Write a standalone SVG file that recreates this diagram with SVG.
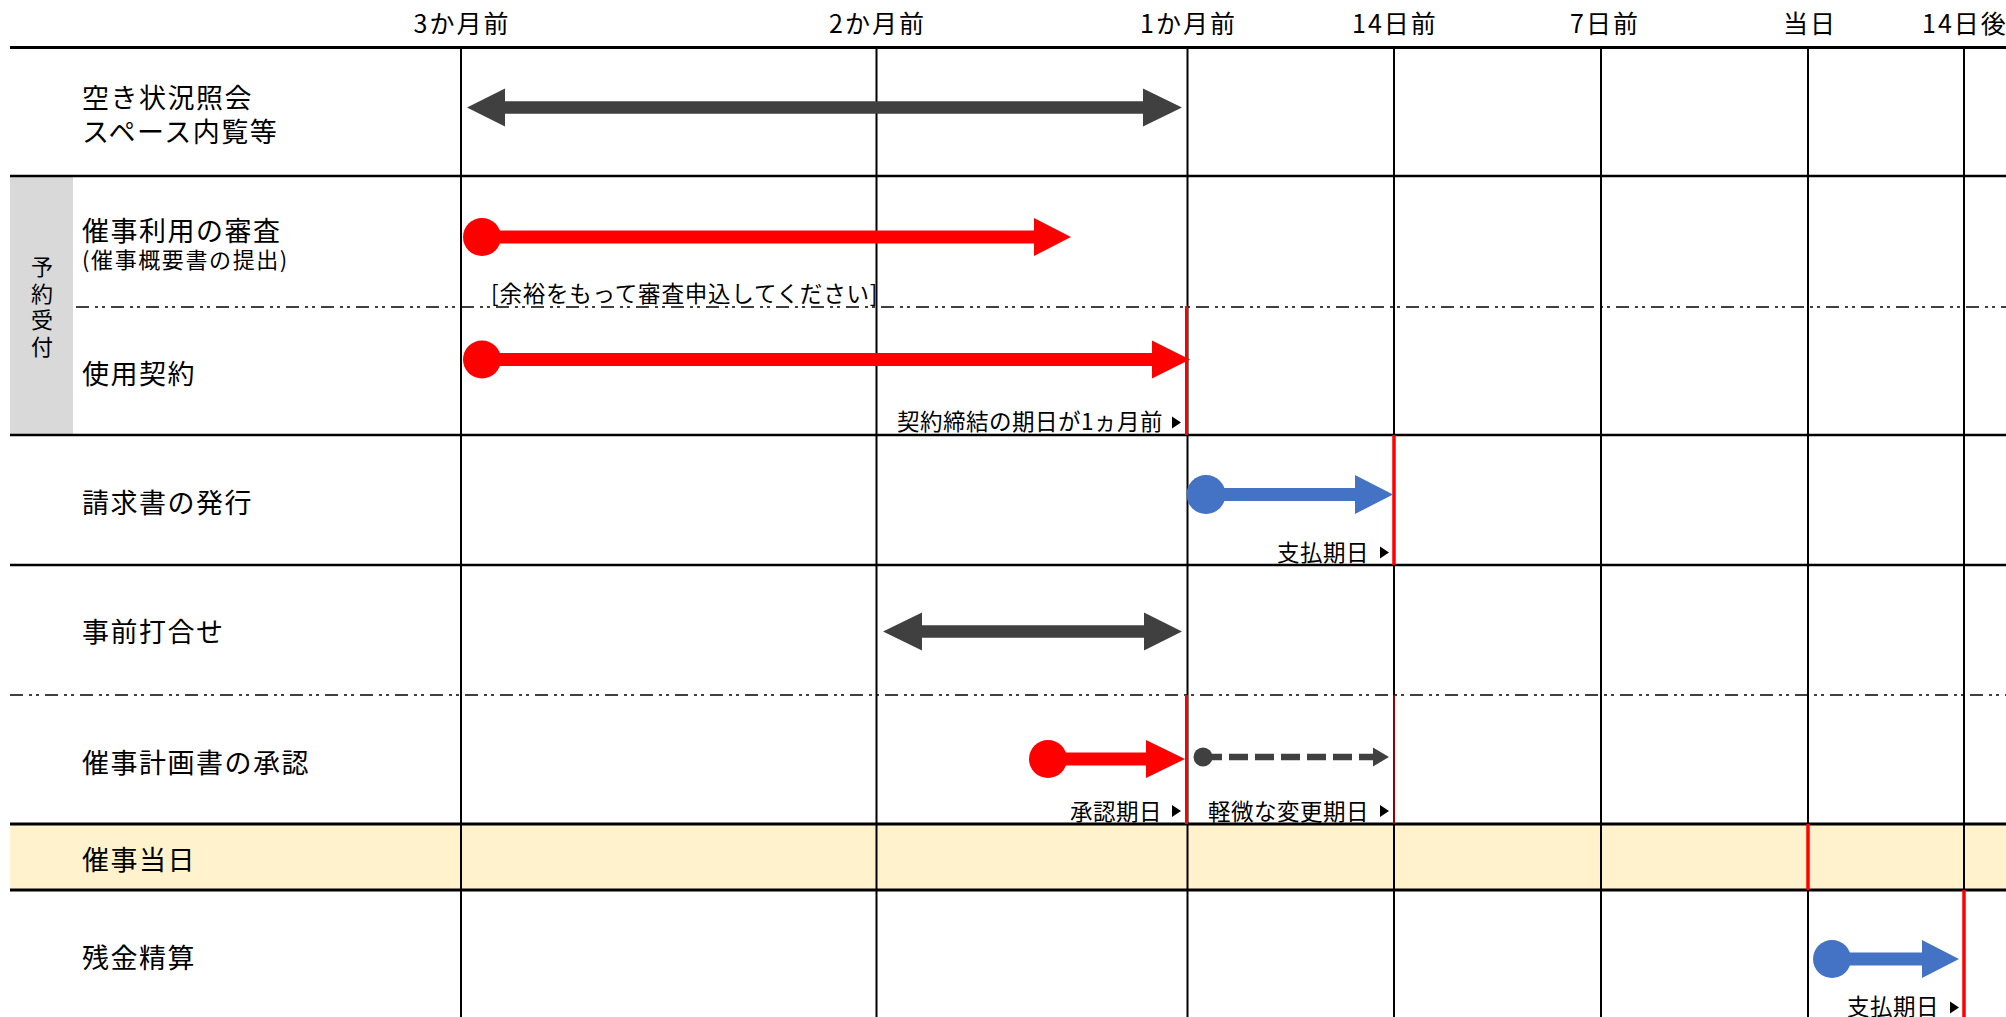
<svg xmlns="http://www.w3.org/2000/svg" width="2006" height="1017" viewBox="0 0 2006 1017">
<style>
text{font-family:"Noto Sans CJK JP","Noto Sans",sans-serif;fill:#000}
.hd{font-size:25px;letter-spacing:2px;text-anchor:middle}
.lb{font-size:27px;letter-spacing:1.5px}
.sm{font-size:22.5px;letter-spacing:0.5px}
.end{text-anchor:end}
.side{font-size:22px;text-anchor:middle;writing-mode:vertical-rl;letter-spacing:4.5px}
.hl{stroke:#000;stroke-width:2.5;fill:none}
.vl{stroke:#000;stroke-width:2;fill:none}
.dd{stroke:#404040;stroke-width:2;stroke-dasharray:13 6 3 4 3 6;fill:none}
.rl{stroke:#FF0000;stroke-width:3;fill:none}
.red{fill:#FF0000}
.blue{fill:#4472C4}
.dark{fill:#404040}
.tri{fill:#000}
</style>
<rect width="2006" height="1017" fill="#FFFFFF"/>
<g id="background">
<rect x="10" y="824" width="1996" height="66" fill="#FFF2CC"/>
<rect x="10" y="177" width="63" height="258" fill="#D9D9D9"/>
</g>
<g id="grid">
<line class="hl" x1="10" y1="47.5" x2="2006" y2="47.5" style="stroke-width:3"/>
<line class="hl" x1="10" y1="176" x2="2006" y2="176"/>
<line class="dd" x1="76" y1="307" x2="2006" y2="307"/>
<line class="hl" x1="10" y1="435" x2="2006" y2="435"/>
<line class="hl" x1="10" y1="565" x2="2006" y2="565"/>
<line class="dd" x1="10" y1="695" x2="2006" y2="695"/>
<line class="hl" x1="10" y1="824" x2="2006" y2="824" style="stroke-width:3"/>
<line class="hl" x1="10" y1="890" x2="2006" y2="890" style="stroke-width:3"/>
<line class="vl" x1="461" y1="47.5" x2="461" y2="1017"/>
<line class="vl" x1="876.5" y1="47.5" x2="876.5" y2="1017"/>
<line class="vl" x1="1187.5" y1="47.5" x2="1187.5" y2="1017"/>
<line class="vl" x1="1394" y1="47.5" x2="1394" y2="1017"/>
<line class="vl" x1="1601" y1="47.5" x2="1601" y2="1017"/>
<line class="vl" x1="1808" y1="47.5" x2="1808" y2="1017"/>
<line class="vl" x1="1964" y1="47.5" x2="1964" y2="1017"/>
</g>
<g id="header">
<text class="hd" x="462" y="33">3か月前</text>
<text class="hd" x="877.5" y="33">2か月前</text>
<text class="hd" x="1188.5" y="33">1か月前</text>
<text class="hd" x="1395" y="33">14日前</text>
<text class="hd" x="1605" y="33">7日前</text>
<text class="hd" x="1810" y="33">当日</text>
<text class="hd" x="1965" y="33">14日後</text>
</g>
<g id="deadlines">
<line class="rl" x1="1186.5" y1="306" x2="1186.5" y2="435"/>
<line class="rl" x1="1394" y1="435" x2="1394" y2="565" style="stroke-width:3.5"/>
<line class="rl" x1="1186.5" y1="695" x2="1186.5" y2="824"/>
<line class="rl" x1="1394" y1="695" x2="1394" y2="824" style="stroke-width:1.2"/>
<line class="rl" x1="1808" y1="824" x2="1808" y2="890" style="stroke-width:3.5"/>
<line class="rl" x1="1964" y1="890" x2="1964" y2="1017" style="stroke-width:3.5"/>
</g>
<g id="row-sidebar">
<text class="side" x="42" y="309">予約受付</text>
</g>
<g id="row-aki">
<text class="lb"><tspan x="82" y="108">空き状況照会</tspan><tspan x="82" y="142">スペース内覧等</tspan></text>
</g>
<g id="row-shinsa">
<text class="lb"><tspan x="82" y="241">催事利用の審査</tspan><tspan x="82" y="268" style="font-size:22px;letter-spacing:1.6px">(催事概要書の提出)</tspan></text>
<text class="sm" x="491" y="302" style="letter-spacing:0.8px">[余裕をもって審査申込してください]</text>
</g>
<g id="row-keiyaku">
<text class="lb" x="82" y="384">使用契約</text>
<text class="sm end" x="1163" y="429.5">契約締結の期日が1ヵ月前</text>
<polygon class="tri" points="1172,416.5 1172,428.5 1181,422.5"/>
</g>
<g id="row-seikyu">
<text class="lb" x="82" y="513">請求書の発行</text>
<text class="sm end" x="1369" y="561">支払期日</text>
<polygon class="tri" points="1380,546.5 1380,558.5 1389,552.5"/>
</g>
<g id="row-uchiawase">
<text class="lb" x="82" y="642">事前打合せ</text>
</g>
<g id="row-keikaku">
<text class="lb" x="82" y="773">催事計画書の承認</text>
<text class="sm end" x="1162" y="820">承認期日</text>
<polygon class="tri" points="1172,805 1172,817 1181,811"/>
<text class="sm end" x="1369" y="820">軽微な変更期日</text>
<polygon class="tri" points="1380,805 1380,817 1389,811"/>
</g>
<g id="row-tojitsu">
<text class="lb" x="82" y="870">催事当日</text>
</g>
<g id="row-zankin">
<text class="lb" x="82" y="968">残金精算</text>
<text class="sm end" x="1939" y="1015">支払期日</text>
<polygon class="tri" points="1950,1001.5 1950,1013.5 1959,1007.5"/>
</g>
<g id="connectors">
<path class="dark" d="M467,107.5 L505,88.5 L505,101.25 L1143,101.25 L1143,88.5 L1182,107.5 L1143,126.5 L1143,113.75 L505,113.75 L505,126.5 Z"/>
<g class="red">
<circle cx="482" cy="237" r="19"/>
<path d="M482,230.5 L1034,230.5 L1034,218 L1071,237 L1034,256 L1034,243.5 L482,243.5 Z"/>
</g>
<g class="red">
<circle cx="482" cy="359.5" r="19"/>
<path d="M482,353 L1152,353 L1152,340.5 L1190,359.5 L1152,378.5 L1152,366 L482,366 Z"/>
</g>
<g class="blue">
<circle cx="1206" cy="494.5" r="19.5"/>
<path d="M1206,488 L1355,488 L1355,475 L1393,494.5 L1355,514 L1355,501 L1206,501 Z"/>
</g>
<path class="dark" d="M883,631.5 L922,612.5 L922,625.25 L1144,625.25 L1144,612.5 L1182,631.5 L1144,650.5 L1144,637.75 L922,637.75 L922,650.5 Z"/>
<g class="red">
<circle cx="1048" cy="759" r="19"/>
<path d="M1048,752.5 L1146,752.5 L1146,740 L1185,759 L1146,778 L1146,765.5 L1048,765.5 Z"/>
</g>
<g class="dark">
<circle cx="1203" cy="757" r="9.5"/>
<line x1="1203" y1="757" x2="1375" y2="757" stroke="#404040" stroke-width="6.5" stroke-dasharray="19 7"/>
<polygon points="1373,747.5 1389,757 1373,766.5"/>
</g>
<g class="blue">
<circle cx="1832" cy="959" r="19"/>
<path d="M1832,952.5 L1922,952.5 L1922,940 L1959,959 L1922,978 L1922,965.5 L1832,965.5 Z"/>
</g>
</g>
</svg>
